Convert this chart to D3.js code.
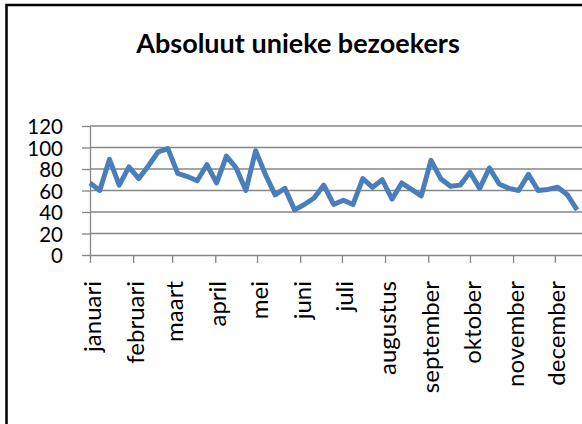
<!DOCTYPE html>
<html>
<head>
<meta charset="utf-8">
<script src="https://cdn.jsdelivr.net/npm/d3@7"></script>
<style>
    body { margin: 0; background: #fff; }
    svg { display: block; }
    .grid line, .yaxis line, .xaxis line, .xaxis path { stroke: #868686; stroke-width: 1.3; }
    .yaxis path { stroke: #868686; stroke-width: 1.3; }
    text { font-family: Lato, "Open Sans", sans-serif; fill: #000; }
</style>
</head>
<body>
<div id="chart"></div>
<script>
// chart data (weekly counts, first week starts 1 januari)
const chartTitle = "Absoluut unieke bezoekers";
const firstWeek = "2011-01-01";
const visitors = [67, 60, 89, 65, 82, 71, 83, 96, 99, 76,
    73, 69, 84, 67, 92, 81, 60, 97, 75, 56,
    62, 42, 47, 53, 65, 47, 51, 47, 71, 63,
    70, 52, 67, 61, 55, 88, 71, 64, 65, 77,
    62, 81, 66, 62, 60, 75, 60, 61, 63, 56,
    42];
const monthNames = ["januari", "februari", "maart", "april", "mei", "juni",
    "juli", "augustus", "september", "oktober", "november", "december"];
const yTicks = [0, 20, 40, 60, 80, 100, 120];

const W = 582, H = 424;
// plot area (the chart is cropped on the right, so the area runs past the window)
const margin = {top: 126, left: 90, bottom: 169};
const plotW = 508;
const plotH = H - margin.top - margin.bottom;

const start = new Date(firstWeek + "T00:00:00Z");
const data = visitors.map((v, i) => ({date: d3.utcDay.offset(start, 7 * i), value: v}));

const svg = d3.select("#chart").append("svg")
    .attr("width", W)
    .attr("height", H);

// outer frame of the chart
svg.append("rect")
    .attr("x", 6.5).attr("y", 5)
    .attr("width", 700).attr("height", 500)
    .attr("fill", "#fff")
    .attr("stroke", "#000")
    .attr("stroke-width", 2.5);

svg.append("text")
    .attr("x", 298).attr("y", 53)
    .attr("text-anchor", "middle")
    .attr("font-weight", "bold")
    .attr("font-size", "27px")
    .text(chartTitle);

const g = svg.append("g")
    .attr("transform", `translate(${margin.left},${margin.top})`);

const x = d3.scaleUtc()
    .domain([start, d3.utcYear.offset(start, 1)])
    .range([0, plotW]);

const y = d3.scaleLinear()
    .domain([0, 120])
    .range([plotH, 0]);

// horizontal gridlines
g.append("g").attr("class", "grid")
    .selectAll("line")
    .data(yTicks.filter(d => d > 0))
    .join("line")
    .attr("x1", 0).attr("x2", plotW)
    .attr("y1", d => y(d)).attr("y2", d => y(d));

const yAxis = g.append("g").attr("class", "yaxis")
    .call(d3.axisLeft(y).tickValues(yTicks).tickSize(8).tickSizeOuter(0).tickPadding(19));
yAxis.selectAll("text")
    .attr("font-size", "20.5px")
    .attr("dy", "0.37em");

const months = d3.utcMonth.range(start, d3.utcYear.offset(start, 1));
const xAxis = g.append("g").attr("class", "xaxis")
    .attr("transform", `translate(0,${plotH})`)
    .call(d3.axisBottom(x).tickValues(months).tickSize(8).tickSizeOuter(0)
        .tickFormat(d => monthNames[d.getUTCMonth()]));
xAxis.selectAll("text")
    .attr("font-size", "24px")
    .attr("text-anchor", "end")
    .attr("transform", "rotate(-90)")
    .attr("x", -26)
    .attr("y", 0)
    .attr("dy", "0.42em");

const line = d3.line()
    .x(d => x(d.date))
    .y(d => y(d.value));

g.append("path")
    .datum(data)
    .attr("fill", "none")
    .attr("stroke", "#4a7ebb")
    .attr("stroke-width", 5)
    .attr("stroke-linejoin", "round")
    .attr("d", line);
</script>
</body>
</html>
